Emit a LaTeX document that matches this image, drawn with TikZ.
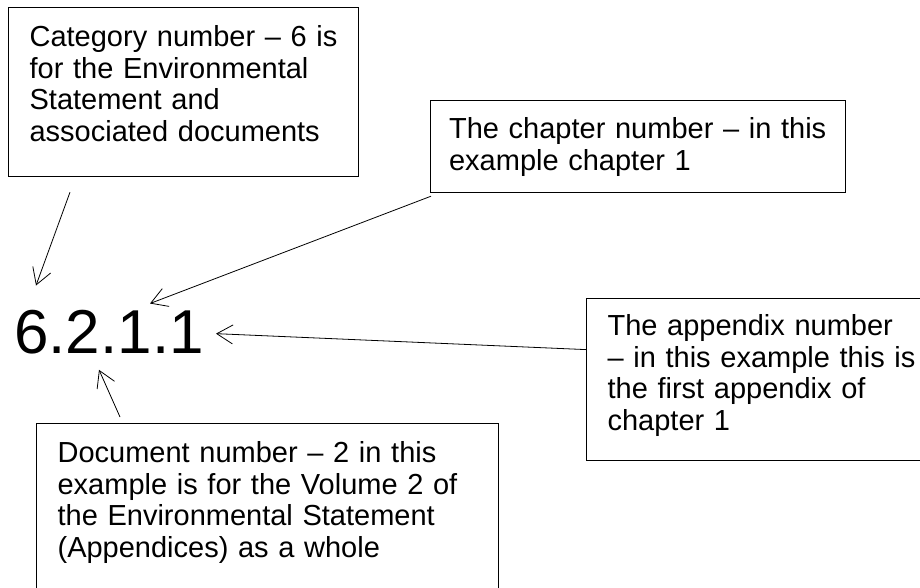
\documentclass[tikz,border=0pt]{standalone}
\usepackage{fontspec}
\setmainfont{Liberation Sans}
\usetikzlibrary{arrows.meta}

\begin{document}
\begin{tikzpicture}[x=1pt,y=-1pt,
    box/.style={draw, line width=1.2pt, anchor=north west, align=left,
        inner xsep=21pt, inner ysep=0pt, font=\fontsize{29}{31.6}\selectfont},
    pointer/.style={-{Straight Barb[length=16pt,width=19pt]}, line width=0.8pt}]
    % Frame
    \clip (0,0) rectangle (920,588);
    \fill[white] (0,0) rectangle (920,588);

    % Reference number
    \node[anchor=base west, inner sep=0pt, font=\fontsize{62}{72}\selectfont] (num) at (14,353) {6.2.1.1};

    % Text boxes
    \node[box, text width=308pt, text height=39pt, text depth=130pt] (cat) at (8,7)
        {Category number -- 6 is\\for the Environmental\\Statement and\\associated documents};
    \node[box, inner xsep=18.5pt, text width=378pt, text height=38pt, text depth=54pt] (chap) at (430,100)
        {The chapter number -- in this\\example chapter 1};
    \node[box, text width=340pt, text height=37pt, text depth=125pt] (app) at (586,298)
        {The appendix number\\-- in this example this is\\the first appendix of\\chapter 1};
    \node[box, text width=420pt, text height=39pt, text depth=180pt] (doc) at (36,423)
        {Document number -- 2 in this\\example is for the Volume 2 of\\the Environmental Statement\\(Appendices) as a whole};

    % Pointers
    \draw[pointer] ([xshift=62pt,yshift=-15pt]cat.south west) -- ([xshift=22pt,yshift=24pt]num.north west);
    \draw[pointer] ([xshift=1pt,yshift=-3pt]chap.south west) -- ([xshift=136pt,yshift=6pt]num.north west);
    \draw[pointer] ([yshift=30pt]app.west) -- ([xshift=12pt,yshift=-2pt]num.east);
    \draw[pointer] ([xshift=84pt,yshift=6pt]doc.north west) -- ([xshift=85pt,yshift=-16pt]num.south west);
\end{tikzpicture}
\end{document}
